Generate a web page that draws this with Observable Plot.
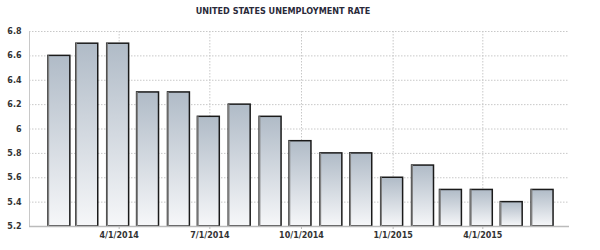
<!DOCTYPE html>
<html><head><meta charset="utf-8">
<script src="https://cdn.jsdelivr.net/npm/d3@7"></script>
<script src="https://cdn.jsdelivr.net/npm/@observablehq/plot@0.6"></script>
<style>
body{margin:0;background:#fff;width:600px;height:250px;overflow:hidden}
#title{width:566px;height:20px;text-align:center;font:bold 9px "DejaVu Sans Condensed";line-height:22px;color:#2a2a3a;white-space:nowrap}
</style>
</head><body>
<div id="title">UNITED STATES UNEMPLOYMENT RATE</div>
<div id="chart"></div>
<script>
const title = "UNITED STATES UNEMPLOYMENT RATE";
const dates = ["2014-01-31","2014-02-28","2014-03-31","2014-04-30","2014-05-31","2014-06-30","2014-07-31","2014-08-31","2014-09-30","2014-10-31","2014-11-30","2014-12-31","2015-01-31","2015-02-28","2015-03-31","2015-04-30","2015-05-31"];
const rates = [6.6,6.7,6.7,6.3,6.3,6.1,6.2,6.1,5.9,5.8,5.8,5.6,5.7,5.5,5.5,5.4,5.5];
const yTicks = [5.2,5.4,5.6,5.8,6,6.2,6.4,6.6,6.8];
const xTicks = ["2014-04-01","2014-07-01","2014-10-01","2015-01-01","2015-04-01"];
const xTickLabels = ["4/1/2014","7/1/2014","10/1/2014","1/1/2015","4/1/2015"];
const xDomain = ["2014-01-01","2015-06-27"];

const data = dates.map((d, i) => ({date: new Date(d), rate: rates[i]}));
const xt = xTicks.map(d => new Date(d));
const yMin = yTicks[0], yMax = yTicks[yTicks.length - 1];
const halfBar = 11;
const left = d => d3.utcDay.offset(d.date, -halfBar);
const right = d => d3.utcDay.offset(d.date, halfBar);

const defs = () => {
  const g = d3.create("svg:defs");
  const lg = g.append("linearGradient").attr("id", "barGrad").attr("x1", 0).attr("y1", 0).attr("x2", 0).attr("y2", 1);
  lg.append("stop").attr("offset", "0%").attr("stop-color", "#b0bbc7");
  lg.append("stop").attr("offset", "100%").attr("stop-color", "#f6f7f9");
  return g.node();
};

const chart = Plot.plot({
  width: 600,
  height: 230,
  marginTop: 11,
  marginBottom: 24,
  marginLeft: 29,
  marginRight: 31,
  style: {fontFamily: "DejaVu Sans", fontSize: "8px", fontWeight: "bold", color: "#333", background: "#fff"},
  x: {type: "utc", domain: xDomain.map(d => new Date(d))},
  y: {domain: [yMin, yMax]},
  marks: [
    defs,
    Plot.ruleY(yTicks.slice(1), {stroke: "#c8c8c8", strokeDasharray: "1.5,1.5", strokeWidth: 1}),
    Plot.ruleX(xt, {stroke: "#c8c8c8", strokeDasharray: "1.5,1.5", strokeWidth: 1}),
    Plot.ruleX([new Date(xDomain[0])], {stroke: "#c8c8c8", strokeWidth: 1}),
    Plot.rectY(data, {x1: left, x2: right, y1: yMin, y2: "rate", fill: "url(#barGrad)", stroke: "#1a1a1a", strokeWidth: 1.5}),
    Plot.ruleX(data, {x: left, y1: yMin, y2: "rate", stroke: "#808080", strokeWidth: 1.5}),
    Plot.ruleY([yMin], {stroke: "#bbb", strokeWidth: 1.5}),
    Plot.axisY({ticks: yTicks, tickSize: 0, tickPadding: 8, tickFormat: d => String(d), label: null}),
    Plot.axisX({ticks: xt, tickSize: 3, tickPadding: 3, stroke: "#bbb", tickFormat: (d, i) => xTickLabels[i], label: null})
  ]
});
document.getElementById("chart").appendChild(chart);
</script>
</body></html>
